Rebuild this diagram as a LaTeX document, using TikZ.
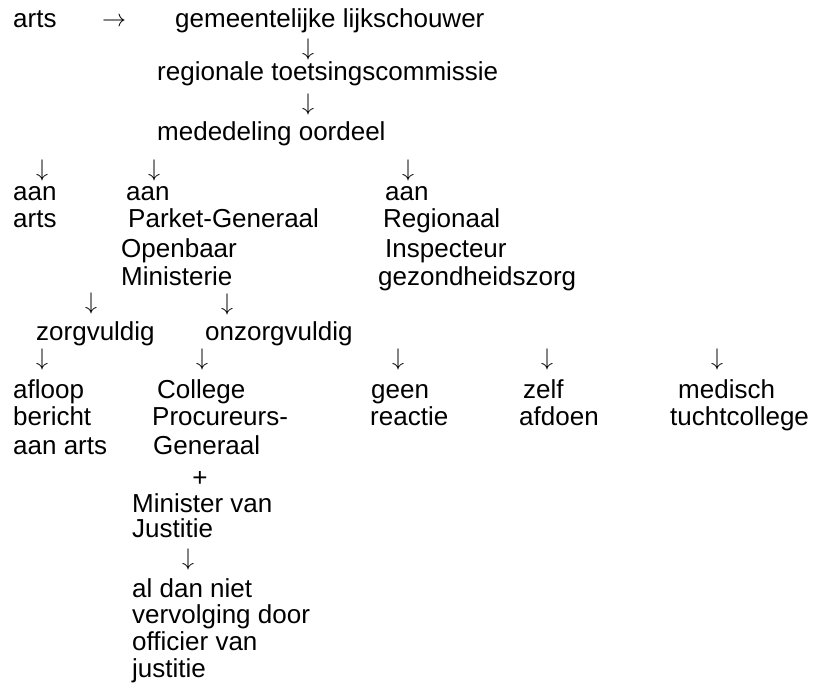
\documentclass[tikz,border=0pt]{standalone}
\usepackage{graphicx}
\usepackage{fontspec}
\setmainfont{Liberation Sans}
\newcommand{\pijl}[1]{\scalebox{2.4}{$#1$}}
\tikzset{
  txt/.style = {anchor=base west, inner sep=0pt},
  arr/.style = {inner sep=0pt, font=\fontsize{10}{10}\selectfont}
}

\begin{document}
\begin{tikzpicture}[x=1pt,y=-1pt,font=\fontsize{26}{28}\selectfont]
  \useasboundingbox (0,0) rectangle (819,689);
  \node[txt] (arts) at (13,27) {arts};
  \node[arr] (naar) at (114,22) {\pijl{\rightarrow}};
  \node[txt] (lijk) at (175,27) {gemeentelijke lijkschouwer};
  \node[txt] (rtc) at (157,80) {regionale toetsingscommissie};
  \node[txt] (oordeel) at (157,140) {mededeling oordeel};
  % mededeling aan
  \node[txt] (aanA) at (13,200) {aan};
  \node[txt] (artsA) at (13,227) {arts};
  \node[txt] (aanP) at (126,200) {aan};
  \node[txt] (pg) at (128,227) {Parket-Generaal};
  \node[txt] (om1) at (121,257) {Openbaar};
  \node[txt] (om2) at (121,285) {Ministerie};
  \node[txt] (aanR) at (385,200) {aan};
  \node[txt] (ri1) at (383,227) {Regionaal};
  \node[txt] (ri2) at (385,257) {Inspecteur};
  \node[txt] (ri3) at (378,285) {gezondheidszorg};
  % oordeel OM
  \node[txt] (zv) at (36,340) {zorgvuldig};
  \node[txt] (ozv) at (205,340) {onzorgvuldig};
  % afloop
  \node[txt] (af1) at (13,398) {afloop};
  \node[txt] (af2) at (13,425) {bericht};
  \node[txt] (af3) at (13,454) {aan arts};
  \node[txt] (cpg1) at (157,398) {College};
  \node[txt] (cpg2) at (152,425) {Procureurs-};
  \node[txt] (cpg3) at (153,454) {Generaal};
  \node[anchor=base, inner sep=0pt] (plus) at (200,486) {+};
  \node[txt] (mvj1) at (132,512) {Minister van};
  \node[txt] (mvj2) at (132,537) {Justitie};
  \node[txt] (ovj1) at (132,597) {al dan niet};
  \node[txt] (ovj2) at (132,623) {vervolging door};
  \node[txt] (ovj3) at (132,650) {officier van};
  \node[txt] (ovj4) at (132,677) {justitie};
  \node[txt] (gr1) at (371,398) {geen};
  \node[txt] (gr2) at (370,425) {reactie};
  \node[txt] (za1) at (523,398) {zelf};
  \node[txt] (za2) at (519,425) {afdoen};
  \node[txt] (mt1) at (678,398) {medisch};
  \node[txt] (mt2) at (670,425) {tuchtcollege};
  % pijlen
  \foreach \X/\Y [count=\i] in {308/49,308/104,42/170,154/170,408/170,
      91/303,227/304,42/359,202/359,398/359,547/359,717/359,188/559}
    \node[arr] (d\i) at (\X,\Y) {\pijl{\downarrow}};
\end{tikzpicture}
\end{document}
